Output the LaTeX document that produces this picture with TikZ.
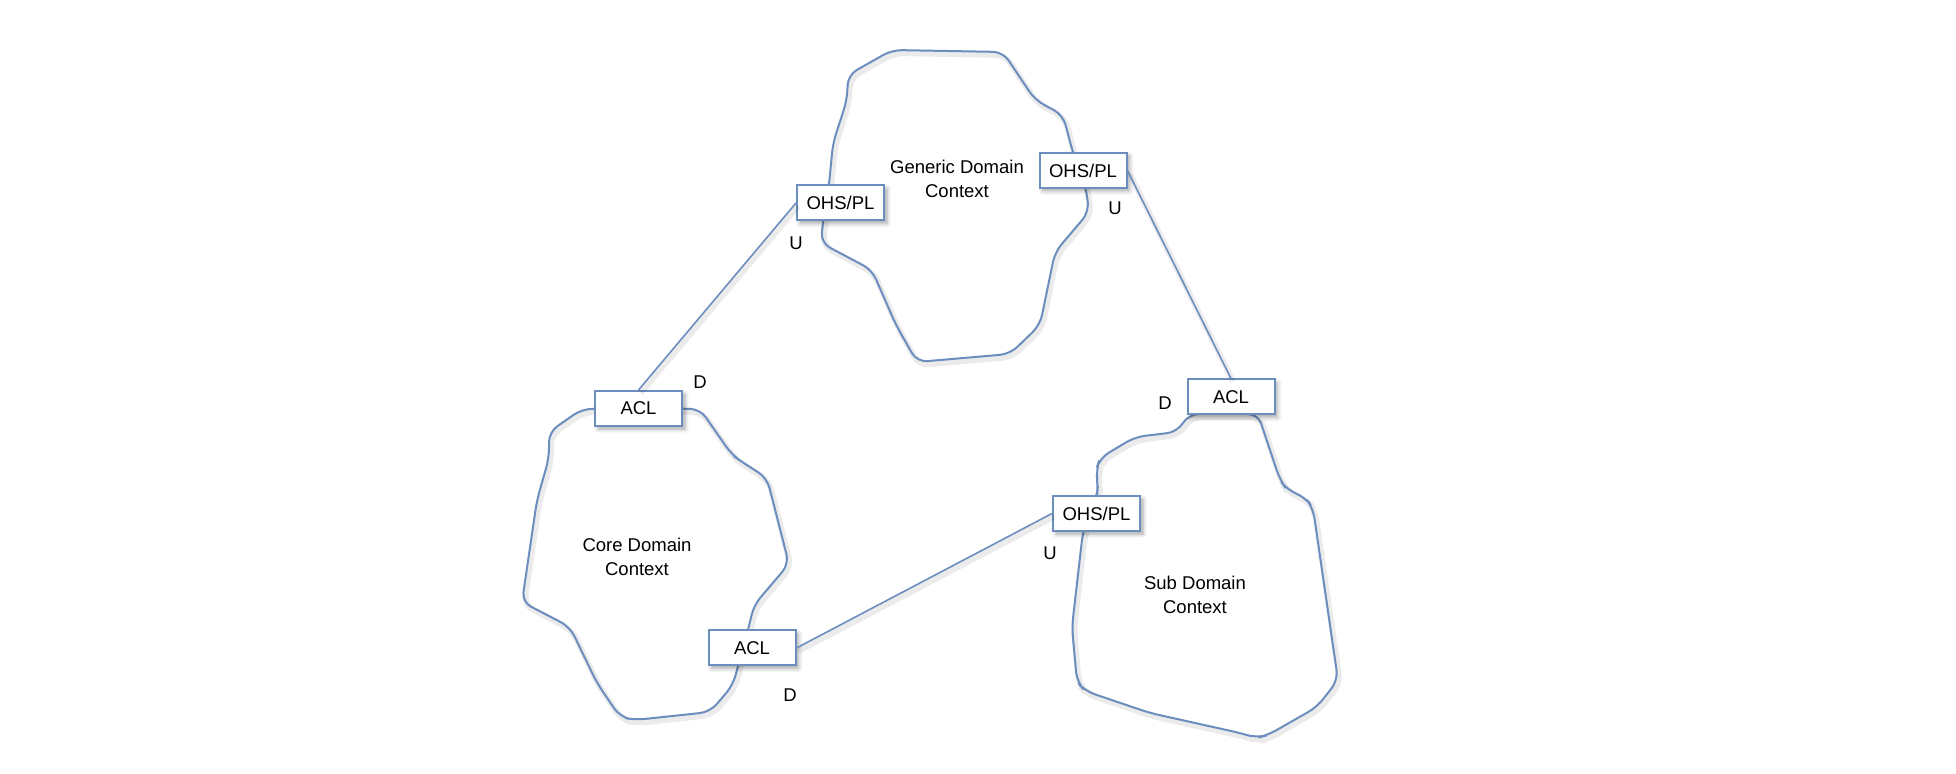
\documentclass[tikz,border=0pt]{standalone}
\usepackage{fontspec}
\setmainfont{Liberation Sans}
\usetikzlibrary{shadows,shadows.blur}
\definecolor{edgeblue}{HTML}{6C8EBF}
\tikzset{
  x=0.5pt, y=-0.5pt,
  softshadow/.style={preaction={draw=black, draw opacity=0.08, line width=3pt,
      transform canvas={shift={(1pt,-1.5pt)}}}},
  blob/.style={draw=edgeblue, line width=1pt, rounded corners=5pt, softshadow},
  conn/.style={draw=edgeblue, line width=0.8pt, softshadow},
  ctxbox/.style={draw=edgeblue, fill=white, line width=1pt, minimum width=43.5pt,
      minimum height=17.5pt, inner sep=0pt, font=\fontsize{9.25}{11}\selectfont,
      blur shadow={shadow xshift=1.5pt, shadow yshift=-1.5pt, shadow blur steps=6, shadow opacity=35}},
  ctxlabel/.style={align=center, font=\fontsize{9.25}{12}\selectfont},
  rel/.style={font=\fontsize{9.25}{11}\selectfont, inner sep=0pt}
}
\begin{document}
\begin{tikzpicture}
\useasboundingbox (0,0) rectangle (1956,774);
% blobs
\draw[blob] (823,221) -- (821,243) -- (872,270) -- (896,325) -- (917,362) -- (1010,354) -- (1040,325)
  -- (1055,252) -- (1089,212) -- (1086,188) -- (1073,153) -- (1063,115) -- (1035,100) -- (1003,52)
  -- (892,50) -- (848,75) -- (847,100) -- (833,143) -- (829,185) -- cycle;
\draw[blob] (640,408) -- (582,409) -- (549,432) -- (549,458) -- (537,500) -- (522,602) -- (570,627)
  -- (597,683) -- (620,717) -- (635,720) -- (710,712) -- (733,685) -- (738,666) -- (748,630)
  -- (754,605) -- (789,564) -- (767,478) -- (742,462) -- (732,455) -- (700,409) -- cycle;
\draw[blob] (1189,414) -- (1177,432) -- (1135,437) -- (1100,458) -- (1096,470) -- (1098,485)
  -- (1097,496) -- (1083,531) -- (1072,627) -- (1077,682) -- (1085,691) -- (1150,713) -- (1240,733)
  -- (1257,738) -- (1268,735) -- (1317,707) -- (1338,680) -- (1313,508) -- (1305,497) -- (1287,490)
  -- (1280,480) -- (1258,414) -- cycle;
% context labels
\node[ctxlabel] (gen) at (957,179) {Generic Domain\\Context};
\node[ctxlabel] (core) at (637,557) {Core Domain\\Context};
\node[ctxlabel] (sub) at (1195,595) {Sub Domain\\Context};
% boxes
\node[ctxbox] (ohsA) at (840.5,203) {OHS/PL};
\node[ctxbox] (ohsB) at (1083,170.5) {OHS/PL};
\node[ctxbox] (aclA) at (638.5,408.5) {ACL};
\node[ctxbox] (aclB) at (752,648) {ACL};
\node[ctxbox] (aclC) at (1231,397) {ACL};
\node[ctxbox] (ohsC) at (1096.5,513.5) {OHS/PL};
% connectors
\draw[conn] (ohsA.west) -- (aclA.north);
\draw[conn] (ohsB.east) -- (aclC.north);
\draw[conn] (aclB.east) -- (ohsC.west);
% U / D
\node[rel] (uA) at (796,243) {U};
\node[rel] (uB) at (1115,208) {U};
\node[rel] (uC) at (1050,553) {U};
\node[rel] (dA) at (700,382) {D};
\node[rel] (dB) at (790,695) {D};
\node[rel] (dC) at (1165,403) {D};
\end{tikzpicture}
\end{document}
